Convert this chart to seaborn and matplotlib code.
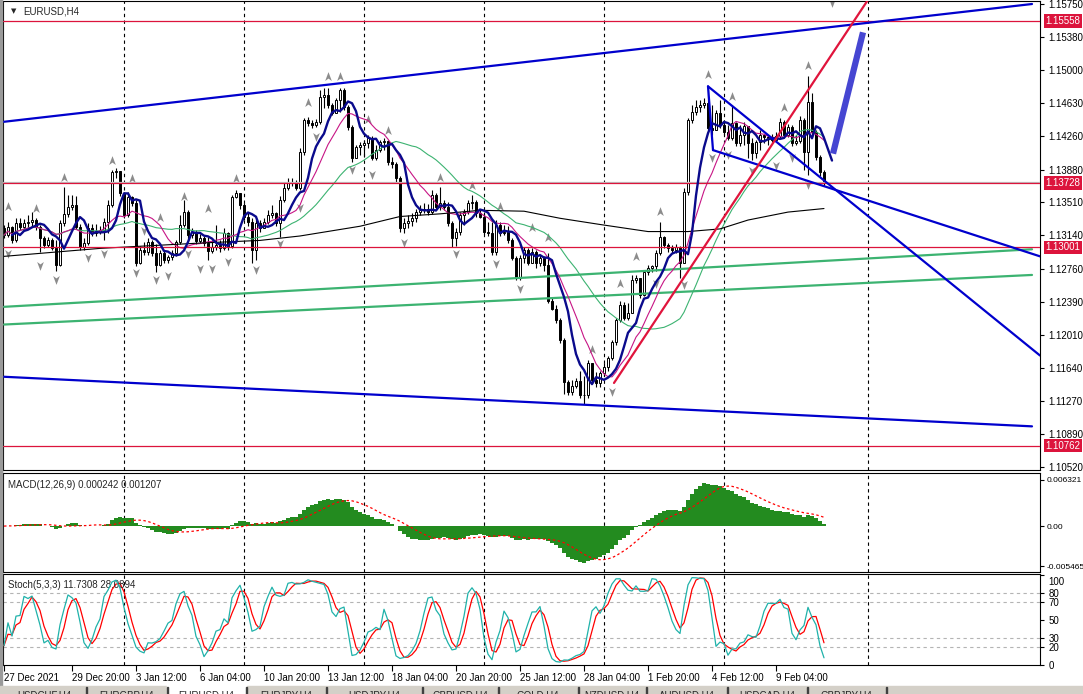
import matplotlib
matplotlib.use('Agg')
import matplotlib.pyplot as plt
import matplotlib.transforms as mtransforms
from matplotlib.path import Path
from matplotlib.patches import Rectangle
import numpy as np
import pandas as pd
import seaborn as sns

sns.set_theme(style='white')
plt.rcParams['font.family'] = ['Liberation Sans', 'DejaVu Sans']

# ---------------- data ----------------
first_open = 1.1322

closes = [
    1.1314, 1.1323, 1.1308, 1.1328, 1.1323, 1.1328, 1.1329, 1.1331, 1.1323, 1.1311,
    1.1303, 1.1308, 1.1299, 1.1280, 1.1328, 1.1338, 1.1346, 1.1348, 1.1323, 1.1300,
    1.1305, 1.1322, 1.1316, 1.1318, 1.1320, 1.1329, 1.1348, 1.1385, 1.1386, 1.1361,
    1.1337, 1.1357, 1.1350, 1.1282, 1.1297, 1.1295, 1.1306, 1.1294, 1.1280, 1.1294,
    1.1286, 1.1289, 1.1294, 1.1306, 1.1325, 1.1340, 1.1314, 1.1317, 1.1307, 1.1311,
    1.1305, 1.1296, 1.1300, 1.1303, 1.1299, 1.1316, 1.1302, 1.1357, 1.1361, 1.1348,
    1.1334, 1.1329, 1.1297, 1.1328, 1.1322, 1.1329, 1.1337, 1.1339, 1.1328, 1.1354,
    1.1367, 1.1373, 1.1374, 1.1367, 1.1408, 1.1444, 1.1441, 1.1438, 1.1442, 1.1470,
    1.1472, 1.1461, 1.1452, 1.1467, 1.1478, 1.1459, 1.1436, 1.1401, 1.1413, 1.1416,
    1.1418, 1.1424, 1.1401, 1.1410, 1.1419, 1.1420, 1.1396, 1.1394, 1.1378, 1.1322,
    1.1328, 1.1330, 1.1333, 1.1340, 1.1342, 1.1344, 1.1340, 1.1359, 1.1346, 1.1350,
    1.1346, 1.1328, 1.1311, 1.1317, 1.1337, 1.1340, 1.1350, 1.1351, 1.1339, 1.1335,
    1.1317, 1.1316, 1.1295, 1.1325, 1.1316, 1.1317, 1.1308, 1.1288, 1.1266, 1.1288,
    1.1297, 1.1283, 1.1295, 1.1283, 1.1288, 1.1280, 1.1240, 1.1231, 1.1218, 1.1195,
    1.1148, 1.1137, 1.1144, 1.1149, 1.1133, 1.1133, 1.1169, 1.1150, 1.1147, 1.1158,
    1.1165, 1.1175, 1.1193, 1.1218, 1.1235, 1.1220, 1.1226, 1.1263, 1.1265, 1.1246,
    1.1272, 1.1277, 1.1279, 1.1294, 1.1312, 1.1303, 1.1299, 1.1297, 1.1300, 1.1283,
    1.1363, 1.1444, 1.1453, 1.1459, 1.1461, 1.1463, 1.1435, 1.1433, 1.1452, 1.1438,
    1.1430, 1.1424, 1.1441, 1.1418, 1.1427, 1.1437, 1.1418, 1.1407, 1.1419, 1.1427,
    1.1425, 1.1424, 1.1421, 1.1426, 1.1442, 1.1427, 1.1436, 1.1418, 1.1420, 1.1444,
    1.1408, 1.1464, 1.1430, 1.1402, 1.1385, 1.1373,
]

highs = [
    1.1325, 1.1329, 1.1324, 1.1333, 1.1333, 1.1332, 1.1337, 1.1340, 1.1333, 1.1325,
    1.1313, 1.1312, 1.1311, 1.1308, 1.1331, 1.1368, 1.1359, 1.1359, 1.1358, 1.1326,
    1.1311, 1.1328, 1.1326, 1.1326, 1.1324, 1.1333, 1.1354, 1.1387, 1.1390, 1.1385,
    1.1363, 1.1363, 1.1358, 1.1354, 1.1302, 1.1306, 1.1311, 1.1308, 1.1304, 1.1297,
    1.1296, 1.1292, 1.1297, 1.1308, 1.1337, 1.1354, 1.1342, 1.1322, 1.1320, 1.1315,
    1.1313, 1.1312, 1.1308, 1.1325, 1.1308, 1.1322, 1.1318, 1.1359, 1.1365, 1.1359,
    1.1350, 1.1339, 1.1333, 1.1333, 1.1331, 1.1333, 1.1342, 1.1348, 1.1340, 1.1358,
    1.1374, 1.1378, 1.1378, 1.1376, 1.1412, 1.1446, 1.1447, 1.1444, 1.1445, 1.1478,
    1.1480, 1.1480, 1.1463, 1.1469, 1.1480, 1.1480, 1.1461, 1.1438, 1.1416, 1.1419,
    1.1421, 1.1427, 1.1426, 1.1416, 1.1421, 1.1424, 1.1421, 1.1402, 1.1396, 1.1381,
    1.1333, 1.1337, 1.1339, 1.1344, 1.1348, 1.1350, 1.1349, 1.1365, 1.1361, 1.1368,
    1.1354, 1.1351, 1.1330, 1.1322, 1.1340, 1.1344, 1.1354, 1.1359, 1.1354, 1.1344,
    1.1340, 1.1329, 1.1329, 1.1331, 1.1329, 1.1325, 1.1324, 1.1311, 1.1290, 1.1291,
    1.1300, 1.1299, 1.1299, 1.1297, 1.1291, 1.1290, 1.1294, 1.1243, 1.1235, 1.1220,
    1.1198, 1.1150, 1.1150, 1.1153, 1.1161, 1.1155, 1.1173, 1.1170, 1.1159, 1.1161,
    1.1169, 1.1178, 1.1195, 1.1220, 1.1240, 1.1238, 1.1237, 1.1269, 1.1269, 1.1266,
    1.1274, 1.1280, 1.1280, 1.1297, 1.1329, 1.1313, 1.1305, 1.1303, 1.1304, 1.1302,
    1.1367, 1.1446, 1.1461, 1.1467, 1.1467, 1.1469, 1.1482, 1.1461, 1.1455, 1.1467,
    1.1444, 1.1438, 1.1461, 1.1442, 1.1438, 1.1442, 1.1437, 1.1424, 1.1421, 1.1433,
    1.1428, 1.1427, 1.1428, 1.1430, 1.1446, 1.1444, 1.1439, 1.1438, 1.1427, 1.1448,
    1.1446, 1.1494, 1.1474, 1.1433, 1.1404, 1.1387,
]

lows = [
    1.1311, 1.1312, 1.1305, 1.1306, 1.1320, 1.1321, 1.1322, 1.1324, 1.1320, 1.1295,
    1.1299, 1.1300, 1.1297, 1.1273, 1.1279, 1.1324, 1.1335, 1.1342, 1.1321, 1.1297,
    1.1297, 1.1303, 1.1313, 1.1313, 1.1315, 1.1308, 1.1316, 1.1346, 1.1379, 1.1358,
    1.1333, 1.1334, 1.1347, 1.1279, 1.1281, 1.1291, 1.1292, 1.1290, 1.1272, 1.1279,
    1.1283, 1.1283, 1.1286, 1.1290, 1.1304, 1.1323, 1.1308, 1.1311, 1.1304, 1.1305,
    1.1302, 1.1286, 1.1294, 1.1297, 1.1295, 1.1297, 1.1297, 1.1299, 1.1356, 1.1344,
    1.1331, 1.1324, 1.1283, 1.1286, 1.1317, 1.1324, 1.1326, 1.1333, 1.1324, 1.1312,
    1.1351, 1.1365, 1.1369, 1.1365, 1.1365, 1.1405, 1.1437, 1.1435, 1.1436, 1.1439,
    1.1457, 1.1457, 1.1450, 1.1452, 1.1453, 1.1455, 1.1433, 1.1396, 1.1401, 1.1404,
    1.1402, 1.1412, 1.1399, 1.1399, 1.1408, 1.1410, 1.1393, 1.1390, 1.1373, 1.1317,
    1.1316, 1.1322, 1.1324, 1.1329, 1.1337, 1.1339, 1.1337, 1.1338, 1.1342, 1.1342,
    1.1342, 1.1324, 1.1300, 1.1302, 1.1314, 1.1325, 1.1338, 1.1344, 1.1335, 1.1333,
    1.1315, 1.1313, 1.1291, 1.1292, 1.1313, 1.1314, 1.1305, 1.1286, 1.1263, 1.1263,
    1.1283, 1.1280, 1.1282, 1.1277, 1.1279, 1.1274, 1.1237, 1.1229, 1.1215, 1.1192,
    1.1135, 1.1133, 1.1133, 1.1141, 1.1130, 1.1123, 1.1130, 1.1147, 1.1143, 1.1143,
    1.1155, 1.1161, 1.1173, 1.1190, 1.1216, 1.1218, 1.1218, 1.1229, 1.1260, 1.1243,
    1.1245, 1.1269, 1.1272, 1.1274, 1.1291, 1.1299, 1.1295, 1.1294, 1.1294, 1.1266,
    1.1283, 1.1359, 1.1441, 1.1450, 1.1453, 1.1457, 1.1433, 1.1427, 1.1433, 1.1435,
    1.1427, 1.1421, 1.1421, 1.1415, 1.1415, 1.1416, 1.1401, 1.1399, 1.1401, 1.1410,
    1.1418, 1.1416, 1.1419, 1.1420, 1.1424, 1.1424, 1.1425, 1.1415, 1.1416, 1.1418,
    1.1387, 1.1382, 1.1426, 1.1399, 1.1381, 1.1369,
]

# slow (black) moving average, read at a few bars
slow_ma_bars = [0, 24, 49, 64, 74, 89, 99, 109, 119, 130, 139, 149, 161, 171, 179, 186, 196, 205]
slow_ma_vals = [1.1290, 1.1299, 1.1305, 1.1308, 1.1313, 1.1324, 1.1335, 1.1338, 1.1342,
                1.1341, 1.1333, 1.1326, 1.1318, 1.1318, 1.1321, 1.1331, 1.1340, 1.1344]

# fractal arrows
up_bars = [1, 8, 15, 27, 32, 39, 45, 51, 58, 76, 81, 84, 91, 96, 109, 117, 124, 132, 136,
           147, 154, 158, 164, 176, 182, 195, 201]
up_prices = [1.1346, 1.1344, 1.1379, 1.1398, 1.1377, 1.1333, 1.1357, 1.1343, 1.1377, 1.1463,
             1.1493, 1.1492, 1.1444, 1.1432, 1.1379, 1.1369, 1.1346, 1.1322, 1.1311,
             1.1184, 1.1259, 1.1289, 1.1340, 1.1495, 1.1470, 1.1457, 1.1505]
down_bars = [1, 9, 13, 21, 25, 33, 35, 38, 41, 46, 49, 52, 56, 63, 69, 74, 78, 87, 92, 100,
             113, 123, 129, 152, 163, 170, 177, 181, 187, 193, 197, 201, 207]
down_prices = [1.1294, 1.1280, 1.1264, 1.1289, 1.1294, 1.1272, 1.1320, 1.1264, 1.1269, 1.1294,
               1.1277, 1.1277, 1.1285, 1.1276, 1.1305, 1.1346, 1.1426, 1.1389, 1.1383, 1.1306,
               1.1294, 1.1282, 1.1254, 1.1138, 1.1260, 1.1259, 1.1402, 1.1406, 1.1387, 1.1393,
               1.1402, 1.1372, 1.1577]

# horizontal levels
red_levels = [1.15558, 1.13728, 1.13001, 1.10762]
bid_price = 1.13745

# trend lines: (bar, price) pairs
blue_lines = [
    ((0, 1.1442), (257, 1.1575)),
    ((0, 1.1154), (257, 1.1098)),
    ((176, 1.1482), (259, 1.1178)),
    ((177.25, 1.1410), (259, 1.1290)),
    ((176, 1.1482), (177.25, 1.1410)),
]
green_lines = [
    ((0, 1.1233), (257, 1.1298)),
    ((0, 1.1213), (257, 1.1269)),
]
red_line = ((152.5, 1.1147), (220, 1.1607))
forecast_line = ((207.25, 1.1406), (214.75, 1.1543))

# axis labels
price_ticks = [1.15750, 1.15380, 1.15000, 1.14630, 1.14260, 1.13880, 1.13510, 1.13140,
               1.12760, 1.12390, 1.12010, 1.11640, 1.11270, 1.10890, 1.10520]
macd_ticks = [0.006321, 0.0, -0.005465]
macd_labels = ['0.006321', '0.00', '-0.005465']
stoch_ticks = [100, 80, 70, 50, 30, 20, 0]
date_bars = [0, 17, 33, 49, 65, 81, 97, 113, 129, 145, 161, 177, 193]
date_labels = ['27 Dec 2021', '29 Dec 20:00', '3 Jan 12:00', '6 Jan 04:00', '10 Jan 20:00',
               '13 Jan 12:00', '18 Jan 04:00', '20 Jan 20:00', '25 Jan 12:00', '28 Jan 04:00',
               '1 Feb 20:00', '4 Feb 12:00', '9 Feb 04:00']
grid_bars = [30, 60, 90, 120, 150, 180, 216]
tab_names = ['USDCHF,H4', 'EURGBP,H4', 'EURUSD,H4', 'EURJPY,H4', 'USDJPY,H4', 'GBPUSD,H4',
             'GOLD,H4', 'NZDUSD,H4', 'AUDUSD,H4', 'USDCAD,H4', 'GBPJPY,H4']

# ---------------- derived series ----------------
c = np.array(closes)
h = np.array(highs)
l = np.array(lows)
o = np.array([first_open] + closes[:-1])
h = np.maximum(h, np.maximum(o, c))
l = np.minimum(l, np.minimum(o, c))
idx = np.arange(len(c))
s = pd.Series(c)

ma_fast = s.ewm(span=5, adjust=False).mean()
ma_mid = s.rolling(13, min_periods=1).mean()
ma_mid30 = s.rolling(30, min_periods=1).mean()

macd = s.ewm(span=12, adjust=False).mean() - s.ewm(span=26, adjust=False).mean()
signal = macd.rolling(9, min_periods=1).mean()

hh = pd.Series(h).rolling(5, min_periods=1).max()
ll = pd.Series(l).rolling(5, min_periods=1).min()
stoch_k = 100 * (s - ll).rolling(3, min_periods=1).sum() / (hh - ll).rolling(3, min_periods=1).sum()
stoch_d = stoch_k.rolling(3, min_periods=1).mean()

# ---------------- layout ----------------
W, H = 1083, 694
fig = plt.figure(figsize=(W / 100, H / 100), dpi=100)
fig.patch.set_facecolor('white')


def fx(px):
    return px / W


def fy(px):
    return 1 - px / H


left, right = 3, 1040
ax = fig.add_axes([fx(left), fy(470), fx(right) - fx(left), fy(1) - fy(470)])
ax_macd = fig.add_axes([fx(left), fy(572), fx(right) - fx(left), fy(473) - fy(572)])
ax_st = fig.add_axes([fx(left), fy(665), fx(right) - fx(left), fy(574) - fy(665)])

xlim = (-0.25, 259)
for a in (ax, ax_macd, ax_st):
    a.set_facecolor('white')
    a.set_xlim(*xlim)
    for sp in a.spines.values():
        sp.set_color('black')
        sp.set_linewidth(0.8)
    a.yaxis.tick_right()
    a.tick_params(axis='y', which='both', right=True, left=False, length=3, width=0.8,
                  pad=3, labelsize=7, colors='black')
    a.set_xticks([])
    for gb in grid_bars:
        a.axvline(gb, color='black', lw=0.8, ls=(0, (3, 3)), zorder=1)

# ---------------- main price panel ----------------
ax.set_ylim(1.10487, 1.15784)
ax.set_yticks(price_ticks)
ax.set_yticklabels([f'{p:.5f}' for p in price_ticks])

for p in red_levels:
    ax.axhline(p, color='#dc143c', lw=0.9, zorder=6)
ax.axhline(bid_price, color='#c0c0c0', lw=0.9, zorder=5)

for (x0, y0), (x1, y1) in green_lines:
    ax.plot([x0, x1], [y0, y1], color='#3cb371', lw=1.6, zorder=5)

# candles
ax.vlines(idx, l, h, color='black', lw=0.8, zorder=3)
up = c >= o
ax.bar(idx[up], (c - o)[up], bottom=o[up], width=0.72, facecolor='white',
       edgecolor='black', lw=0.7, zorder=4)
ax.bar(idx[~up], (o - c)[~up], bottom=c[~up], width=0.72, facecolor='black',
       edgecolor='black', lw=0.7, zorder=4)

# moving averages
sns.lineplot(x=idx, y=ma_mid30.values, ax=ax, color='#3cb371', lw=0.8, zorder=5)
sns.lineplot(x=idx, y=ma_mid.values, ax=ax, color='#c71585', lw=0.8, zorder=5)
sns.lineplot(x=slow_ma_bars, y=slow_ma_vals, ax=ax, color='black', lw=0.8, zorder=5)
sns.lineplot(x=idx + 2, y=ma_fast.values, ax=ax, color='#0a0a8c', lw=1.7, zorder=6)

# trend lines
for (x0, y0), (x1, y1) in blue_lines:
    ax.plot([x0, x1], [y0, y1], color='#0000cd', lw=1.6, zorder=7)
ax.plot([red_line[0][0], red_line[1][0]], [red_line[0][1], red_line[1][1]],
        color='#e0143c', lw=1.6, zorder=7)
ax.plot([forecast_line[0][0], forecast_line[1][0]], [forecast_line[0][1], forecast_line[1][1]],
        color='#4646d2', lw=4.5, solid_capstyle='butt', zorder=7)

# fractal arrows
arrow_up = Path([(0, 1), (0.62, -0.65), (0, -0.2), (-0.62, -0.65), (0, 1)],
                [Path.MOVETO, Path.LINETO, Path.LINETO, Path.LINETO, Path.CLOSEPOLY])
arrow_dn = Path([(0, -1), (0.62, 0.65), (0, 0.2), (-0.62, 0.65), (0, -1)],
                [Path.MOVETO, Path.LINETO, Path.LINETO, Path.LINETO, Path.CLOSEPOLY])
ax.scatter(up_bars, up_prices, marker=arrow_up, s=60, color='#8c8c8c', lw=0, zorder=2)
ax.scatter(down_bars, down_prices, marker=arrow_dn, s=60, color='#8c8c8c', lw=0, zorder=2)

# red price labels on the axis
lab_tr = mtransforms.blended_transform_factory(ax.transAxes, ax.transData)
for p in red_levels:
    ax.text(1.0055, p, f'{p:.5f}', transform=lab_tr, fontsize=7, color='white',
            va='center', ha='left', zorder=10, clip_on=False,
            bbox=dict(boxstyle='square,pad=0.18', fc='#dc143c', ec='none'))

ax.text(fx(8) / (fx(right) - fx(left)), 1 - 10 / 469, '\u25bc', transform=ax.transAxes,
        fontsize=5, va='center', ha='left', family='DejaVu Sans')
ax.text(fx(20) / (fx(right) - fx(left)), 1 - 10 / 469, 'EURUSD,H4', transform=ax.transAxes,
        fontsize=7, va='center', ha='left')

# ---------------- MACD panel ----------------
ax_macd.set_ylim(-0.006287, 0.007280)
ax_macd.bar(idx, macd.values, width=0.78, color='#238b1f', lw=0, antialiased=False, zorder=3)
ax_macd.plot(idx, signal.values, color='red', lw=0.9, ls=(0, (2, 2)), zorder=4)
ax_macd.set_yticks(macd_ticks)
ax_macd.set_yticklabels(macd_labels)
ax_macd.tick_params(axis='y', labelsize=6, pad=1.5)
ax_macd.text(0.005, 0.93, 'MACD(12,26,9) 0.000242 0.001207', transform=ax_macd.transAxes,
             fontsize=7, va='top', ha='left')

# ---------------- Stochastic panel ----------------
ax_st.set_ylim(0, 101.1)
for lev in (80, 70, 30, 20):
    ax_st.axhline(lev, color='#b4b4b4', lw=0.8, ls=(0, (3, 3)), zorder=1)
sns.lineplot(x=idx, y=stoch_k.values, ax=ax_st, color='#20b2aa', lw=0.9, zorder=4)
sns.lineplot(x=idx, y=stoch_d.values, ax=ax_st, color='red', lw=0.9, zorder=3)
ax_st.set_yticks(stoch_ticks)
ax_st.set_yticklabels([str(t) for t in stoch_ticks])
top_lab = ax_st.get_yticklabels()[0]
top_lab.set_transform(top_lab.get_transform() +
                      mtransforms.ScaledTranslation(0, -6 / 100, fig.dpi_scale_trans))
ax_st.text(0.005, 0.93, 'Stoch(5,3,3) 11.7308 28.0894', transform=ax_st.transAxes,
           fontsize=7, va='top', ha='left')

ax_st.set_xticks(date_bars)
ax_st.set_xticklabels(date_labels, fontsize=7, ha='left')
ax_st.tick_params(axis='x', bottom=True, length=4, width=0.8, pad=2, colors='black')

for a in (ax, ax_macd, ax_st):
    a.set_xlabel('')
    a.set_ylabel('')
    a.set_xlim(*xlim)

# ---------------- window decoration ----------------
fig.patches.append(Rectangle((0, 0), fx(2), 1, transform=fig.transFigure,
                             color='#9a9a9a', zorder=0))
fig.patches.append(Rectangle((0, 0), 1, fy(686), transform=fig.transFigure,
                             color='#d4d0c8', zorder=0))
tab_edges = [2, 86, 167, 246, 326, 422, 498, 578, 646, 727, 807, 886, 966]
for i, name in enumerate(tab_names):
    x0, x1 = tab_edges[i], tab_edges[i + 1]
    if name == 'EURUSD,H4':
        fig.patches.append(Rectangle((fx(x0), 0), fx(x1 - x0), fy(684), transform=fig.transFigure,
                                     color='white', zorder=1))
    fig.patches.append(Rectangle((fx(x1), 0), fx(1), fy(687), transform=fig.transFigure,
                                 color='#404040', zorder=2))
    fig.text(fx((x0 + x1) / 2), fy(691), name, fontsize=7, ha='center', va='top', zorder=3)

fig.savefig('out.png', dpi=100)
